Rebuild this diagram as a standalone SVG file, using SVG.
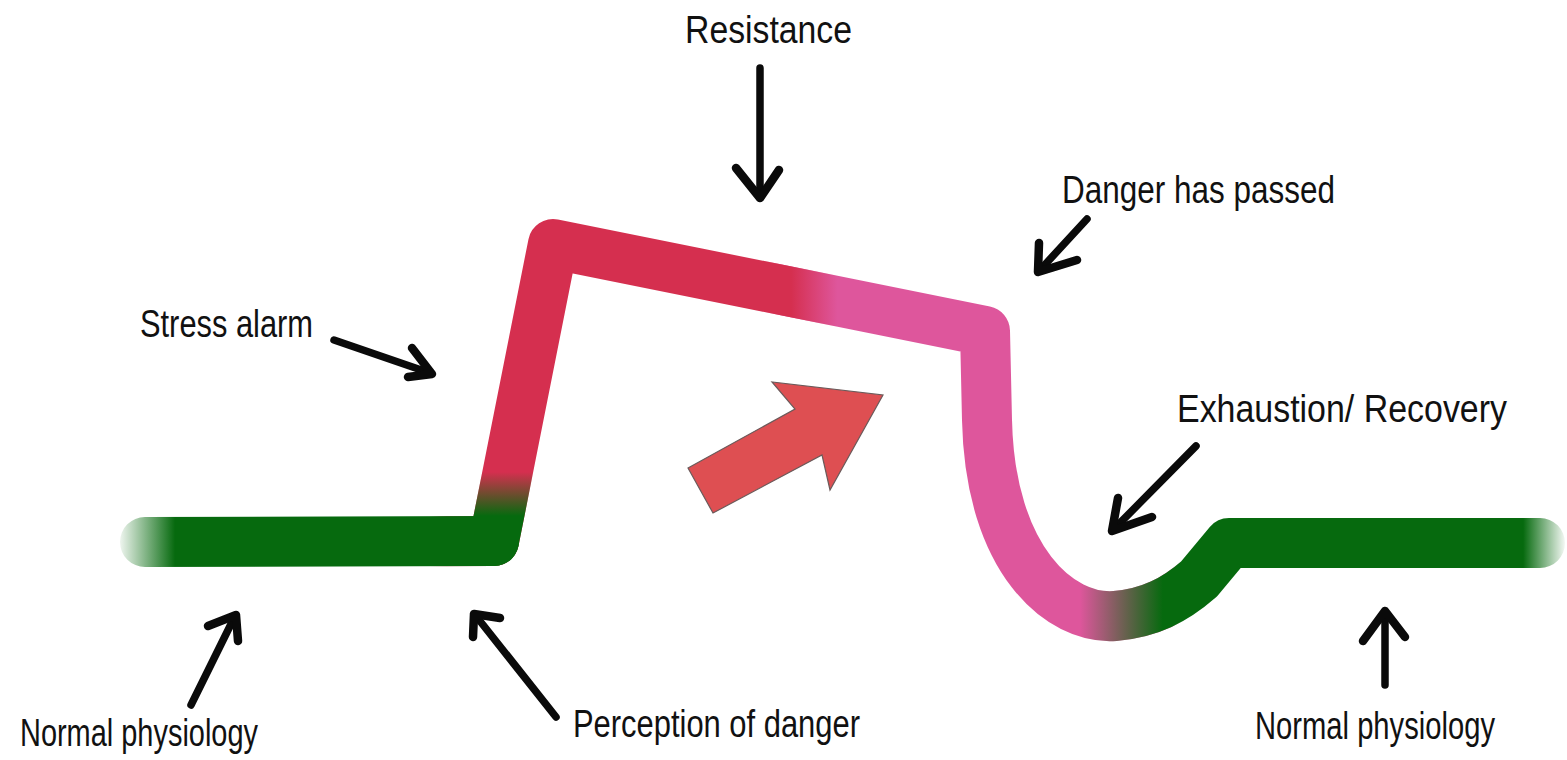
<svg xmlns="http://www.w3.org/2000/svg" xmlns:xlink="http://www.w3.org/1999/xlink" width="1567" height="760" viewBox="0 0 1567 760">
<style>
.lbl{font-family:"Liberation Sans",Arial,sans-serif;font-size:38px;fill:#111;}
.ptr{fill:none;stroke:#0a0a0a;stroke-width:7.5;stroke-linecap:round;stroke-linejoin:round;}
.head{fill:none;stroke:#0a0a0a;stroke-width:8.5;stroke-linecap:round;stroke-linejoin:round;}
.band{fill:none;stroke-width:50;stroke-linecap:round;stroke-linejoin:round;}
</style>
<defs>
<path id="curve" d="M145,542 L494,541 L553,244 L985,331 L987,420 C990,560 1060,620 1115,616 C1150,613 1175,600 1199,579 L1229,543 L1540,543"/>
<linearGradient id="gPink" gradientUnits="userSpaceOnUse" x1="760" y1="0" x2="1200" y2="0">
<stop offset="0" stop-color="#de569c" stop-opacity="0"/>
<stop offset="0.05" stop-color="#de569c" stop-opacity="1"/>
<stop offset="0.93" stop-color="#de569c" stop-opacity="1"/>
<stop offset="0.96" stop-color="#de569c" stop-opacity="0"/>
</linearGradient>
<linearGradient id="gRed" gradientUnits="userSpaceOnUse" x1="430" y1="0" x2="850" y2="0">
<stop offset="0" stop-color="#d52f4f" stop-opacity="0"/>
<stop offset="0.04" stop-color="#d52f4f" stop-opacity="1"/>
<stop offset="0.86" stop-color="#d52f4f" stop-opacity="1"/>
<stop offset="0.97" stop-color="#d52f4f" stop-opacity="0"/>
</linearGradient>
<linearGradient id="gGreenR" gradientUnits="userSpaceOnUse" x1="1080" y1="0" x2="1567" y2="0">
<stop offset="0" stop-color="#066a0e" stop-opacity="0"/>
<stop offset="0.17" stop-color="#066a0e" stop-opacity="1"/>
<stop offset="0.91" stop-color="#066a0e" stop-opacity="1"/>
<stop offset="1" stop-color="#066a0e" stop-opacity="0"/>
</linearGradient>
<linearGradient id="gGreenL" gradientUnits="userSpaceOnUse" x1="116" y1="0" x2="175" y2="0">
<stop offset="0" stop-color="#066a0e" stop-opacity="0"/>
<stop offset="1" stop-color="#066a0e" stop-opacity="1"/>
</linearGradient>
<linearGradient id="gGreenRise" gradientUnits="userSpaceOnUse" x1="0" y1="472" x2="0" y2="516">
<stop offset="0" stop-color="#066a0e" stop-opacity="0"/>
<stop offset="1" stop-color="#066a0e" stop-opacity="1"/>
</linearGradient>
</defs>

<g id="stress-curve">
<use xlink:href="#curve" class="band" stroke="url(#gPink)"/>
<use xlink:href="#curve" class="band" stroke="url(#gRed)"/>
<use xlink:href="#curve" class="band" stroke="url(#gGreenR)"/>
<path class="band" d="M494,541 L553,244" stroke="url(#gGreenRise)"/>
<path class="band" d="M145,542 L494,541" stroke="url(#gGreenL)"/>
</g>

<g id="big-arrow">
<polygon points="688,468 795,409 772,382 883,395 830,490 822,455 713,513" fill="#de4f52" stroke="#6b5a5a" stroke-width="1.2" stroke-linejoin="miter"/>
</g>

<g id="connectors">
<path class="ptr" d="M760,68 L760,198"/>
<path class="head" d="M736,168 L760,198 L779,170"/>
<path class="ptr" d="M1087,219 L1040,270"/>
<path class="head" d="M1039,243 L1038,272 L1077,260"/>
<path class="ptr" d="M334,340 L430,373"/>
<path class="head" d="M412,348 L432,374 L408,377"/>
<path class="ptr" d="M1196,446 L1114,529"/>
<path class="head" d="M1118,498 L1112,531 L1152,517"/>
<path class="ptr" d="M191,705 L234,618"/>
<path class="head" d="M208,626 L236,615 L238,641"/>
<path class="ptr" d="M556,717 L476,616"/>
<path class="head" d="M500,618 L474,614 L473,637"/>
<path class="ptr" d="M1385,685 L1385,614"/>
<path class="head" d="M1363,641 L1385,611 L1405,637"/>
</g>

<g id="label-resistance"><text class="lbl" x="685" y="43" textLength="167" lengthAdjust="spacingAndGlyphs">Resistance</text></g>
<g id="label-danger-passed"><text class="lbl" x="1062" y="203" textLength="273" lengthAdjust="spacingAndGlyphs">Danger has passed</text></g>
<g id="label-stress-alarm"><text class="lbl" x="140" y="337" textLength="173" lengthAdjust="spacingAndGlyphs">Stress alarm</text></g>
<g id="label-exhaustion"><text class="lbl" x="1177" y="422" textLength="330" lengthAdjust="spacingAndGlyphs">Exhaustion/ Recovery</text></g>
<g id="label-normal-left"><text class="lbl" x="20" y="746" textLength="238" lengthAdjust="spacingAndGlyphs">Normal physiology</text></g>
<g id="label-perception"><text class="lbl" x="573" y="737" textLength="287" lengthAdjust="spacingAndGlyphs">Perception of danger</text></g>
<g id="label-normal-right"><text class="lbl" x="1255" y="739" textLength="240" lengthAdjust="spacingAndGlyphs">Normal physiology</text></g>
</svg>
